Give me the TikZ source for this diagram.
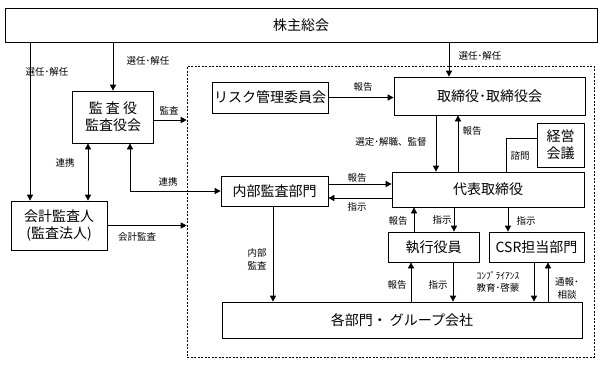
\documentclass[tikz,border=0pt]{standalone}
\usepackage{fontspec}
\setmainfont{Noto Sans CJK JP}
\usetikzlibrary{arrows.meta}

\begin{document}
\begin{tikzpicture}[x=1pt,y=-1pt,
  box/.style={draw, line width=0.7pt, inner sep=0pt, align=center,
    font=\fontsize{14}{17}\selectfont},
  lbl/.style={inner sep=0pt, align=center, font=\fontsize{9.5}{13}\selectfont},
  arr/.style={line width=0.7pt, -{Triangle[length=6pt,width=6pt]}},
  dblarr/.style={line width=0.7pt,
    {Triangle[length=6pt,width=6pt]}-{Triangle[length=6pt,width=6pt]}}]

  \useasboundingbox (0,0) rectangle (603,368);

  % executive area
  \node[draw, dash pattern=on 2pt off 1.5pt, line width=0.6pt, inner sep=0pt,
    minimum width=407pt, minimum height=291pt] (grp) at (390.5,211.5) {};

  \node[box, minimum width=592pt, minimum height=34pt] (kabu) at (301,25) {株主総会};
  \node[box, minimum width=81pt, minimum height=52pt] (kansa) at (113,117) {監 査 役\\監査役会};
  \node[box, minimum width=96pt, minimum height=49pt] (kaikei) at (59,225.5) {会計監査人\\(監査法人)};

  \node[box, minimum width=116pt, minimum height=31pt] (risk) at (270,97.5) {リスク管理委員会};
  \node[box, minimum width=191pt, minimum height=38pt] (tori) at (489.5,96) {取締役･取締役会};
  \node[box, minimum width=47pt, minimum height=44pt] (keiei) at (560.5,145) {経営\\会議};
  \node[box, minimum width=107pt, minimum height=30pt] (naibu) at (274.5,191) {内部監査部門};
  \node[box, minimum width=192pt, minimum height=35pt] (daihyo) at (488,189.5) {代表取締役};
  \node[box, minimum width=91pt, minimum height=30pt] (shikko) at (433.5,247) {執行役員};
  \node[box, minimum width=95pt, minimum height=30pt] (csr) at (536.5,247) {CSR担当部門};
  \node[box, minimum width=360pt, minimum height=36pt] (kaku) at (402,320) {各部門・ グループ会社};

  % shareholders
  \draw[arr] (kabu.south -| 30,0) -- (kaikei.north -| 30,0);
  \draw[arr] (kabu.south -| kansa.north) -- (kansa.north);
  \draw[arr] (kabu.south -| 449,0) -- (tori.north -| 449,0);
  \node[lbl] (l1) at (47,72) {選任･解任};
  \node[lbl] (l2) at (148,61) {選任･解任};
  \node[lbl] (l3) at (480,56) {選任･解任};

  % auditors
  \draw[arr] ([yshift=-3pt]kansa.east) -- ([yshift=-3pt]kansa.east -| grp.west);
  \node[lbl] (l4) at (169,111) {監査};
  \draw[dblarr] (kansa.south -| 88,0) -- (kaikei.north -| 88,0);
  \node[lbl] (l5) at (65,163) {連携};
  \draw[dblarr] (kansa.south -| 130,0) |- (naibu.west);
  \node[lbl] (l6) at (168,182) {連携};
  \draw[arr] (kaikei.east) -- (kaikei.east -| grp.west);
  \node[lbl] (l7) at (137,237) {会計監査};

  % board
  \draw[arr] (risk.east) -- (risk.east -| tori.west);
  \node[lbl] (l8) at (363,87) {報告};
  \draw[arr] (tori.south -| 436,0) -- (daihyo.north -| 436,0);
  \node[lbl] (l9) at (391,142) {選定･解職、監督};
  \draw[arr] (daihyo.north -| 458,0) -- (tori.south -| 458,0);
  \node[lbl] (l10) at (472,131) {報告};
  \draw ([yshift=7pt]keiei.west) -| (daihyo.north -| 506,0);
  \node[lbl] (l11) at (520,156) {諮問};

  % internal audit
  \draw[arr] ([yshift=7pt]naibu.east) -- ([yshift=7pt]naibu.east -| daihyo.west);
  \node[lbl] (l12) at (357,178) {報告};
  \draw[arr] ([yshift=-7pt]naibu.east -| daihyo.west) -- ([yshift=-7pt]naibu.east);
  \node[lbl] (l13) at (357,207) {指示};
  \draw[arr] (naibu.south -| 273,0) -- (kaku.north -| 273,0);
  \node[lbl] (l14) at (257,259) {内部\\監査};

  % executives
  \draw[arr] (shikko.north -| 414,0) -- (daihyo.south -| 414,0);
  \node[lbl] (l15) at (398,221) {報告};
  \draw[arr] (daihyo.south -| 454,0) -- (shikko.north -| 454,0);
  \node[lbl] (l16) at (442,220) {指示};
  \draw[arr] (daihyo.south -| 508,0) -- (csr.north -| 508,0);
  \node[lbl] (l17) at (526,221) {指示};

  % departments
  \draw[arr] (kaku.north -| 411,0) -- (shikko.south -| 411,0);
  \node[lbl] (l18) at (397,285) {報告};
  \draw[arr] (shikko.south -| 453,0) -- (kaku.north -| 453,0);
  \node[lbl] (l19) at (438,285) {指示};
  \draw[arr] (csr.south -| 534,0) -- (kaku.north -| 534,0);
  \node[lbl, font=\fontsize{9.5}{12}\selectfont] (l20) at (498,282) {ｺﾝﾌﾟﾗｲｱﾝｽ\\教育･啓蒙};
  \draw[arr] (kaku.north -| 548,0) -- (csr.south -| 548,0);
  \node[lbl] (l21) at (567,288.5) {通報･\\相談};

\end{tikzpicture}
\end{document}
